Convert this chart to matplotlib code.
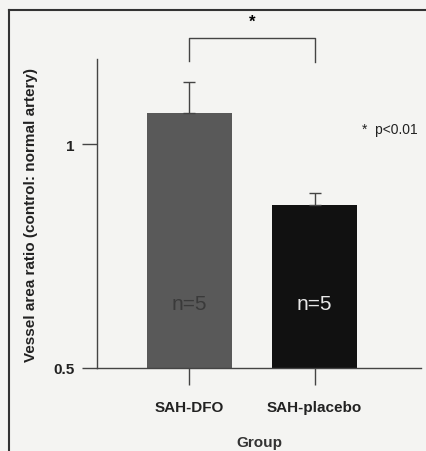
import matplotlib
matplotlib.use("Agg")
import matplotlib.pyplot as plt
from matplotlib.lines import Line2D

groups = ["SAH-DFO", "SAH-placebo"]
values = [1.069, 0.864]
errors = [0.069, 0.027]
n_labels = ["n=5", "n=5"]
bar_colors = ["#595959", "#111111"]
n_colors = ["#3a3a3a", "#e8e8e8"]
yticks = [0.5, 1.0]
yticklabels = ["0.5", "1"]

plt.rcParams['font.family'] = ['Liberation Sans', 'DejaVu Sans']

bg = "#f4f4f2"
fig = plt.figure(figsize=(4.26, 4.52), dpi=100, facecolor=bg)
ax = fig.add_axes([97/426, 1-369/452, 324/426, 309/452], facecolor=bg)

x = list(range(len(groups)))
ax.bar(x, [v - 0.5 for v in values], bottom=0.5, width=0.68, color=bar_colors,
       edgecolor="none", zorder=2)
ax.errorbar(x, values, yerr=[[0, 0], errors], fmt="none", ecolor="#444444",
            elinewidth=1.0, capsize=4, capthick=1.0, zorder=3)

for xi, lab, c in zip(x, n_labels, n_colors):
    ax.text(xi, 0.643, lab, ha="center", va="center", color=c, fontsize=15)

ax.set_xlim(-0.736, 1.85)
ax.set_ylim(0.5, 1.19)
ax.set_yticks(yticks)
ax.set_yticklabels(yticklabels, fontweight="bold", fontsize=11, color="#222222")
ax.set_xticks(x)
ax.set_xticklabels(groups, fontweight="bold", fontsize=11, color="#222222")
ax.tick_params(axis="y", direction="out", length=11, width=1, color="#444444", pad=5)
ax.tick_params(axis="x", direction="out", length=12, width=1, color="#444444", pad=11)
for s in ["top", "right"]:
    ax.spines[s].set_visible(False)
for s in ["left", "bottom"]:
    ax.spines[s].set_color("#444444")
    ax.spines[s].set_linewidth(1.0)

ax.set_xlabel("Group", fontweight="bold", fontsize=11, color="#333333", labelpad=15)
ax.set_ylabel("Vessel area ratio (control: normal artery)", fontweight="bold",
              fontsize=11, color="#222222", labelpad=11)

# significance bracket
yb = 1.19 + (60 - 39) / 448
ax.plot([0, 0, 1, 1], [1.19 - 2/448, yb, yb, 1.19 - 3/448], color="#444444",
        lw=1.0, clip_on=False)
ax.text(0.5, 1.19 + (60 - 22) / 448, "*", ha="center", va="center",
        fontsize=12, fontweight="bold", clip_on=False)
ax.text(1.82, 1.0 + (145 - 130) / 448, "*  p<0.01", ha="right", va="center",
        fontsize=10, color="#222222")

# outer frame
fig.add_artist(Line2D([9/426, 9/426], [0, 1 - 11/452], color="#333333", lw=1.5,
                      transform=fig.transFigure))
fig.add_artist(Line2D([9/426, 1], [1 - 11/452, 1 - 11/452], color="#333333", lw=1.5,
                      transform=fig.transFigure))

fig.savefig("out.png", dpi=100, facecolor=bg)
